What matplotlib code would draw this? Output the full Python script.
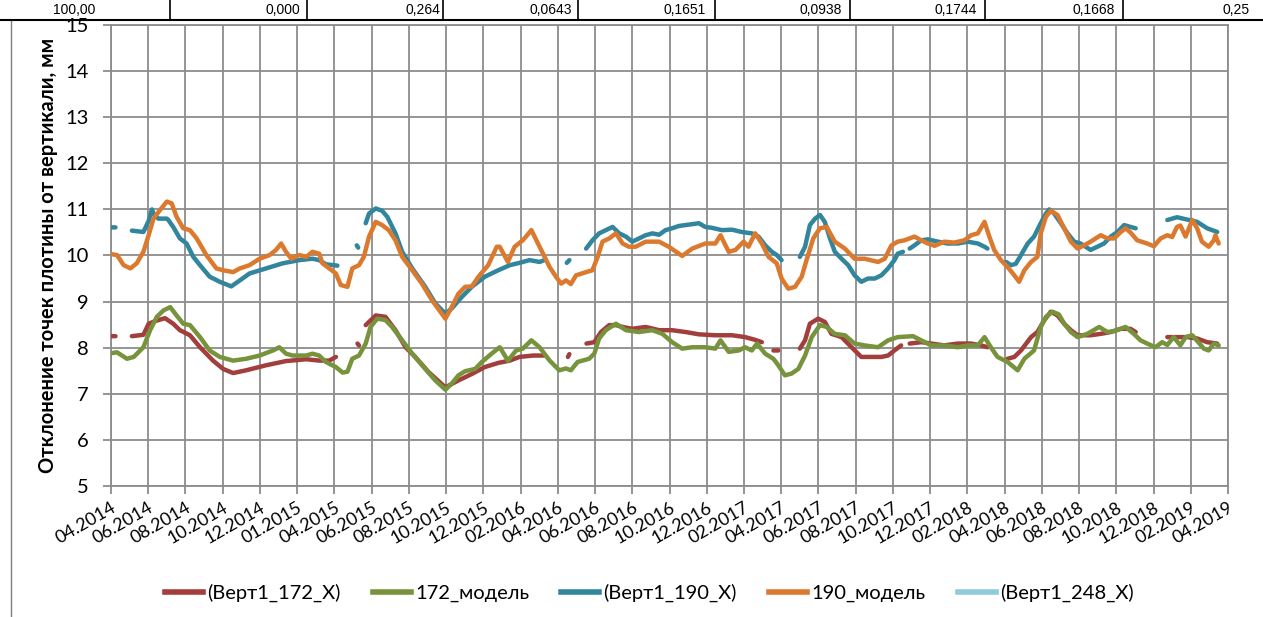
import numpy as np
import matplotlib
matplotlib.use("Agg")
import matplotlib.pyplot as plt
from matplotlib.lines import Line2D

nan = np.nan

# category labels of the x axis (one every 1 unit of the index)
x_labels = ["04.2014", "06.2014", "08.2014", "10.2014", "12.2014", "01.2015",
            "04.2015", "06.2015", "08.2015", "10.2015", "12.2015", "02.2016",
            "04.2016", "06.2016", "08.2016", "10.2016", "12.2016", "02.2017",
            "04.2017", "06.2017", "08.2017", "10.2017", "12.2017", "02.2018",
            "04.2018", "06.2018", "08.2018", "10.2018", "12.2018", "02.2019",
            "04.2019"]

# header row of the table above the chart (cut off by the crop)
table_vals = ["100,00", "0,000", "0,264", "0,0643", "0,1651", "0,0938",
              "0,1744", "0,1668", "0,25"]

# (Верт1_172_X) measured, nan = gap
red_x = [0, 0.12, nan,
         0.56, 0.87, 1.01, 1.23, 1.45, 1.67, 1.85, 2.12, 2.39, 2.74, 3.01, 3.28,
         3.63, 4.17, 4.70, 5.24, 5.59, 5.86, 6.04, nan,
         6.62, 6.66, nan,
         6.84, 7.11, 7.37, 7.64, 7.91, 8.17, 8.53, 8.98, 9.33, 9.69, 10.04,
         10.40, 10.71, 10.97, 11.33, 11.64, nan,
         12.27, 12.31, nan,
         12.77, 12.98, 13.16, 13.38, 13.56, 13.74, 14.00, 14.36, 14.72, 15.07,
         15.43, 15.79, 16.23, 16.68, 17.03, 17.30, 17.48, nan,
         17.79, 17.92, nan,
         18.50, 18.64, 18.77, 18.99, 19.17, 19.35, 19.62, 19.89, 20.15, 20.42,
         20.69, 20.87, 21.04, 21.22, nan,
         21.45, 21.76, 22.03, 22.38, 22.74, 23.10, 23.37, 23.54, nan,
         24.08, 24.26, 24.44, 24.71, 24.88, 25.06, 25.24, 25.42, 25.60, 25.78,
         25.96, 26.31, 26.58, 26.85, 27.12, 27.38, 27.52, nan,
         28.37, 28.63, 28.90, 29.17, 29.44, 29.71]
red_y = [8.25, 8.25, nan,
         8.25, 8.28, 8.52, 8.59, 8.64, 8.52, 8.38, 8.27, 8.01, 7.72, 7.54, 7.45,
         7.51, 7.62, 7.71, 7.75, 7.72, 7.72, 7.80, nan,
         8.09, 8.05, nan,
         8.49, 8.70, 8.67, 8.38, 8.01, 7.80, 7.47, 7.14, 7.29, 7.43, 7.58,
         7.67, 7.72, 7.80, 7.83, 7.83, nan,
         7.80, 7.86, nan,
         8.09, 8.12, 8.34, 8.49, 8.49, 8.45, 8.41, 8.45, 8.38, 8.38,
         8.34, 8.29, 8.27, 8.27, 8.23, 8.17, 8.12, nan,
         7.94, 7.94, nan,
         7.98, 8.16, 8.52, 8.63, 8.56, 8.30, 8.23, 8.01, 7.80, 7.80,
         7.80, 7.83, 7.94, 8.05, nan,
         8.09, 8.12, 8.09, 8.05, 8.09, 8.09, 8.05, 8.01, nan,
         7.76, 7.80, 7.94, 8.23, 8.34, 8.59, 8.78, 8.70, 8.52, 8.38,
         8.27, 8.27, 8.30, 8.34, 8.41, 8.41, 8.34, nan,
         8.23, 8.23, 8.23, 8.20, 8.12, 8.09]

# 172_модель
green_x = [0, 0.16, 0.43, 0.61, 0.87, 1.05, 1.23, 1.41, 1.59, 1.76, 1.94, 2.12,
           2.39, 2.65, 2.92, 3.28, 3.63, 3.99, 4.35, 4.52, 4.70, 4.88, 5.24,
           5.41, 5.59, 5.77, 6.04, 6.22, 6.35, 6.48, 6.66, 6.84, 6.97, 7.15,
           7.37, 7.55, 7.82, 8.09, 8.44, 8.71, 8.98, 9.15, 9.33, 9.51, 9.78,
           9.96, 10.22, 10.44, 10.66, 10.88, 11.06, 11.29, 11.51, 11.78, 12.04,
           12.22, 12.35, 12.53, 12.84, 12.98, 13.11, 13.29, 13.56, 13.83, 14.18,
           14.54, 14.81, 15.07, 15.34, 15.61, 15.96, 16.23, 16.37, 16.59, 16.86,
           17.03, 17.21, 17.35, 17.57, 17.79, 17.92, 18.10, 18.28, 18.46, 18.64,
           18.82, 19.04, 19.22, 19.44, 19.71, 19.97, 20.24, 20.60, 20.87, 21.13,
           21.54, 21.76, 22.03, 22.38, 22.74, 23.01, 23.28, 23.46, 23.63, 23.81,
           24.08, 24.35, 24.53, 24.79, 24.97, 25.11, 25.29, 25.46, 25.60, 25.78,
           25.96, 26.22, 26.54, 26.76, 26.94, 27.25, 27.47, 27.65, 27.83, 28.05,
           28.23, 28.37, 28.54, 28.72, 28.86, 29.04, 29.17, 29.35, 29.48, 29.62,
           29.75]
green_y = [7.88, 7.90, 7.76, 7.80, 8.01, 8.38, 8.67, 8.81, 8.88, 8.70, 8.52, 8.49,
           8.23, 7.94, 7.80, 7.72, 7.76, 7.83, 7.94, 8.01, 7.87, 7.83, 7.83,
           7.87, 7.83, 7.69, 7.58, 7.46, 7.48, 7.76, 7.83, 8.09, 8.45, 8.63,
           8.60, 8.45, 8.16, 7.87, 7.54, 7.29, 7.09, 7.22, 7.40, 7.49, 7.54,
           7.69, 7.87, 8.01, 7.72, 7.94, 7.98, 8.16, 8.01, 7.72, 7.51,
           7.55, 7.51, 7.69, 7.76, 7.87, 8.20, 8.38, 8.52, 8.38, 8.34,
           8.38, 8.30, 8.12, 7.98, 8.01, 8.01, 7.98, 8.16, 7.91, 7.94,
           8.01, 7.94, 8.09, 7.87, 7.76, 7.62, 7.40, 7.44, 7.54, 7.83,
           8.23, 8.49, 8.45, 8.30, 8.27, 8.09, 8.05, 8.01, 8.16, 8.23,
           8.25, 8.16, 8.05, 8.05, 8.01, 8.05, 8.05, 8.23, 8.01, 7.80,
           7.69, 7.51, 7.76, 7.94, 8.45, 8.67, 8.78, 8.72, 8.52, 8.34,
           8.23, 8.30, 8.45, 8.34, 8.36, 8.45, 8.30, 8.16, 8.09, 8.01,
           8.12, 8.06, 8.23, 8.05, 8.23, 8.27, 8.15, 7.98, 7.94, 8.09,
           8.05]

# (Верт1_190_X) measured, nan = gap
blue_x = [0, 0.12, nan,
          0.56, 0.87, 1.01, 1.10, 1.14, 1.27, 1.50, 1.54, 1.67, 1.85, 2.03, 2.21,
          2.39, 2.65, 2.92, 3.23, 3.46, 3.72, 4.17, 4.61, 5.06, 5.41, 5.59, 5.77,
          6.08, nan,
          6.60, 6.64, nan,
          6.84, 6.93, 7.11, 7.28, 7.42, 7.64, 7.82, 8.09, 8.44, 8.71, 8.98, 9.15,
          9.42, 9.69, 10.04, 10.40, 10.71, 10.97, 11.24, 11.51, 11.64, nan,
          12.24, 12.31, nan,
          12.76, 12.93, 13.11, 13.29, 13.47, 13.65, 13.83, 14.00, 14.18, 14.36,
          14.54, 14.72, 14.89, 15.07, 15.25, 15.52, 15.79, 15.96, 16.14, 16.41,
          16.68, 16.94, 17.21, 17.39, 17.57, 17.75, 17.88, 18.01, nan,
          18.50, 18.64, 18.77, 18.91, 19.04, 19.17, 19.31, 19.44, 19.62, 19.80,
          19.97, 20.15, 20.33, 20.51, 20.69, 20.87, 21.04, 21.13, 21.27, nan,
          21.45, 21.58, 21.76, 21.94, 22.21, 22.47, 22.74, 23.01, 23.28, 23.46,
          23.54, nan,
          24.04, 24.17, 24.30, 24.44, 24.62, 24.79, 24.97, 25.11, 25.20, 25.33,
          25.51, 25.69, 25.87, 26.04, 26.31, 26.49, 26.67, 26.85, 27.03, 27.21,
          27.38, 27.52, nan,
          28.37, 28.63, 28.90, 29.17, 29.44, 29.71]
blue_y = [10.61, 10.61, nan,
          10.54, 10.51, 10.75, 11.00, 10.91, 10.80, 10.80, 10.77, 10.62, 10.37,
          10.26, 9.97, 9.79, 9.54, 9.43, 9.33, 9.46, 9.61, 9.72, 9.83, 9.90,
          9.93, 9.90, 9.81, 9.78, nan,
          10.22, 10.17, nan,
          10.70, 10.91, 11.02, 10.97, 10.84, 10.48, 10.08, 9.72, 9.32, 8.96,
          8.74, 8.85, 9.10, 9.32, 9.54, 9.68, 9.79, 9.84, 9.90, 9.86, 9.90, nan,
          9.84, 9.90, nan,
          10.15, 10.33, 10.48, 10.55, 10.62, 10.48, 10.41, 10.30, 10.37, 10.44,
          10.48, 10.45, 10.55, 10.59, 10.64, 10.67, 10.70, 10.62, 10.60, 10.55,
          10.56, 10.51, 10.48, 10.41, 10.22, 10.08, 10.01, 9.90, nan,
          9.97, 10.19, 10.66, 10.80, 10.88, 10.73, 10.37, 10.08, 9.93, 9.79,
          9.57, 9.43, 9.50, 9.50, 9.57, 9.72, 9.90, 10.04, 10.08, nan,
          10.15, 10.22, 10.33, 10.35, 10.30, 10.26, 10.26, 10.30, 10.26, 10.19,
          10.15, nan,
          9.86, 9.79, 9.82, 10.01, 10.26, 10.41, 10.70, 10.91, 11.00, 10.91,
          10.70, 10.48, 10.30, 10.26, 10.12, 10.19, 10.26, 10.41, 10.51, 10.66,
          10.62, 10.59, nan,
          10.77, 10.83, 10.78, 10.73, 10.59, 10.51]

# 190_модель
orange_x = [0, 0.16, 0.34, 0.52, 0.69, 0.87, 1.01, 1.14, 1.32, 1.50, 1.63, 1.76,
            1.94, 2.12, 2.30, 2.56, 2.83, 3.01, 3.28, 3.46, 3.72, 3.99, 4.26,
            4.43, 4.57, 4.70, 4.84, 5.06, 5.24, 5.41, 5.59, 5.68, 5.86, 6.04,
            6.17, 6.35, 6.48, 6.66, 6.79, 6.93, 7.11, 7.28, 7.46, 7.64, 7.82,
            8.09, 8.35, 8.62, 8.98, 9.15, 9.33, 9.51, 9.69, 9.87, 10.13, 10.36,
            10.44, 10.66, 10.84, 11.06, 11.29, 11.51, 11.78, 11.95, 12.09, 12.22,
            12.35, 12.49, 12.76, 12.93, 13.07, 13.20, 13.38, 13.56, 13.74, 13.91,
            14.09, 14.36, 14.72, 14.98, 15.34, 15.61, 15.96, 16.23, 16.37, 16.59,
            16.77, 16.99, 17.12, 17.30, 17.48, 17.66, 17.88, 18.01, 18.19, 18.37,
            18.55, 18.68, 18.86, 19.04, 19.22, 19.44, 19.71, 19.97, 20.24, 20.60,
            20.78, 20.96, 21.13, 21.31, 21.58, 21.76, 21.94, 22.12, 22.38, 22.65,
            22.92, 23.10, 23.28, 23.46, 23.59, 23.72, 23.90, 24.08, 24.26, 24.39,
            24.53, 24.71, 24.88, 24.97, 25.11, 25.24, 25.42, 25.60, 25.78, 25.96,
            26.13, 26.31, 26.58, 26.76, 26.94, 27.12, 27.25, 27.38, 27.56, 27.83,
            28.01, 28.19, 28.37, 28.50, 28.63, 28.72, 28.86, 29.04, 29.17, 29.30,
            29.48, 29.62, 29.66, 29.75]
orange_y = [10.03, 10.01, 9.79, 9.72, 9.83, 10.08, 10.44, 10.80, 10.99, 11.17,
            11.13, 10.84, 10.59, 10.55, 10.37, 10.01, 9.72, 9.68, 9.64, 9.72,
            9.79, 9.93, 10.01, 10.12, 10.26, 10.08, 9.93, 10.01, 9.97, 10.08,
            10.04, 9.83, 9.72, 9.61, 9.36, 9.32, 9.72, 9.79, 9.97, 10.41, 10.73,
            10.66, 10.55, 10.33, 9.97, 9.68, 9.39, 9.03, 8.63, 8.88, 9.17, 9.32,
            9.33, 9.54, 9.79, 10.19,
            10.19, 9.86, 10.19, 10.33, 10.55, 10.19, 9.75, 9.54, 9.39, 9.46,
            9.38, 9.57, 9.64, 9.68, 9.97, 10.30, 10.37, 10.48, 10.26, 10.19,
            10.19, 10.30, 10.30, 10.19, 9.99, 10.15, 10.26, 10.26, 10.44, 10.08,
            10.12, 10.30, 10.19, 10.48, 10.26, 9.97, 9.83, 9.50, 9.28, 9.32,
            9.54, 9.90, 10.37, 10.59, 10.62, 10.30, 10.15, 9.93, 9.93, 9.86,
            9.93, 10.22, 10.30, 10.33, 10.41, 10.33, 10.26, 10.21, 10.30, 10.28,
            10.33, 10.44, 10.48, 10.73, 10.41, 10.12, 9.90, 9.75, 9.57, 9.43,
            9.68, 9.86, 9.97, 10.48, 10.84, 10.97, 10.88, 10.59, 10.30, 10.15,
            10.22, 10.30, 10.44, 10.37, 10.37, 10.51, 10.59, 10.50, 10.33, 10.26,
            10.20, 10.37, 10.44, 10.40, 10.62, 10.65, 10.41, 10.77, 10.59, 10.30,
            10.19, 10.33, 10.44, 10.26]

series_names = ["(Верт1_172_X)", "172_модель", "(Верт1_190_X)", "190_модель",
                "(Верт1_248_X)"]
series_colors = ["#A23E3C", "#77933C", "#31859C", "#DB7A2E", "#8ECBDD"]

plt.rcParams["font.family"] = ["Lato", "DejaVu Sans"]

fig = plt.figure(figsize=(12.63, 6.17), dpi=100)
ax = fig.add_axes([0.0879, 0.2123, 0.8844, 0.7472])

lw = 3.2
ax.plot(red_x, red_y, color=series_colors[0], lw=lw, solid_capstyle="round", zorder=3)
ax.plot(green_x, green_y, color=series_colors[1], lw=lw, solid_capstyle="round", zorder=4)
ax.plot(blue_x, blue_y, color=series_colors[2], lw=lw, solid_capstyle="round", zorder=5)
ax.plot(orange_x, orange_y, color=series_colors[3], lw=lw, solid_capstyle="round", zorder=6)

ax.set_xlim(0, len(x_labels) - 1)
ax.set_ylim(5, 15)
ax.set_yticks(range(5, 16))
ax.set_xticks(range(len(x_labels)))
ax.set_xticklabels(x_labels, rotation=30, ha="right", va="top",
                   rotation_mode="anchor", fontsize=13)
ax.tick_params(axis="y", labelsize=14.5, length=6, width=1.3, color="#8C8C8C", pad=10)
ax.tick_params(axis="x", length=5.5, width=1.3, color="#8C8C8C", pad=4)

ax.grid(True, color="#8C8C8C", lw=1.3)
ax.set_axisbelow(True)
for s in ax.spines.values():
    s.set_color("#8C8C8C")
    s.set_linewidth(1.3)

ax.set_ylabel("Отклонение точек плотины от вертикали, мм", fontsize=14.5,
              fontweight="bold", labelpad=5)

handles = [Line2D([], [], color=c, lw=4) for c in series_colors]
fig.legend(handles, series_names, loc="center", bbox_to_anchor=(0.514, 0.039),
           ncol=5, frameon=False, fontsize=14.5, handlelength=1.9,
           handletextpad=0.2, columnspacing=1.6)

# pieces of the page around the chart
W, H = 1263, 617
fig.add_artist(Line2D([0, 1], [1 - 20 / H, 1 - 20 / H], color="black", lw=1.5))
fig.add_artist(Line2D([11 / W, 11 / W], [0, 1 - 21 / H], color="#7F7F7F", lw=1))
for sx in [170, 307, 443, 578, 715, 850, 985, 1123]:
    fig.add_artist(Line2D([sx / W, sx / W], [1 - 20 / H, 1], color="black", lw=1.2))
text_right = [95, 300, 440, 572, 706, 842, 977, 1115, 1250]
for tx, tv in zip(text_right, table_vals):
    fig.text(tx / W, 1 - 3 / H, tv, ha="right", va="top", fontsize=10,
             family=["Liberation Sans"])

fig.savefig("out.png", dpi=100)
